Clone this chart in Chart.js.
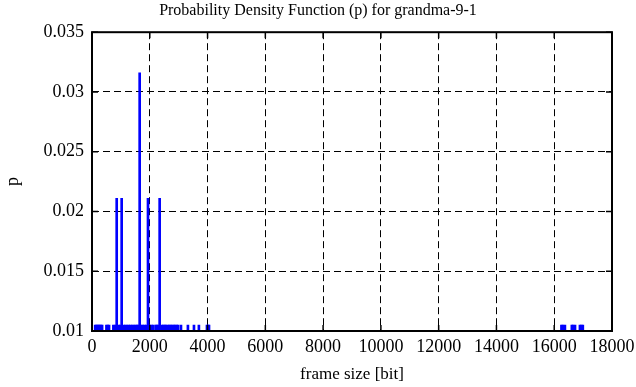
<!DOCTYPE html>
<html>
<head>
<meta charset="utf-8">
<script src="https://cdn.jsdelivr.net/npm/chart.js@4/dist/chart.umd.min.js"></script>
<style>
  html, body { margin: 0; padding: 0; background: #fff; }
  #wrap { width: 636px; height: 387px; }
</style>
</head>
<body>
<div id="wrap"><canvas id="c" width="636" height="387"></canvas></div>
<script>
// ---- data ----
const titleText = 'Probability Density Function (p) for grandma-9-1';
const xLabel = 'frame size [bit]';
const yLabel = 'p';
const xTicks = [0, 2000, 4000, 6000, 8000, 10000, 12000, 14000, 16000, 18000];
const yTickLabels = ['0.01', '0.015', '0.02', '0.025', '0.03', '0.035'];

const frameSizes = [
  110, 150, 190, 230, 270, 310, 350,
  500, 545, 590,
  740, 800, 855, 860, 920, 980, 1027, 1090, 1150, 1210, 1270, 1330, 1390, 1450, 1510, 1560,
  1600, 1650, 1700, 1760, 1820, 1880, 1938, 2000, 2060, 2110,
  2200, 2240, 2290,
  2342, 2420, 2470, 2520, 2560,
  2620, 2680, 2720,
  2780, 2830, 2880, 2930, 2980,
  3080, 3320, 3530, 3700,
  3980, 4020, 4050,
  16250, 16300, 16370, 16610, 16650, 16720, 16890, 16940, 16990
];
const probabilities = [
  0.0105, 0.0105, 0.0105, 0.0105, 0.0105, 0.0105, 0.0105,
  0.0105, 0.0105, 0.0105,
  0.0105, 0.0105, 0.0211, 0.0105, 0.0105, 0.0105, 0.0211, 0.0105, 0.0105, 0.0105, 0.0105, 0.0105, 0.0105, 0.0105, 0.0105, 0.0105,
  0.0105, 0.0316, 0.0105, 0.0105, 0.0105, 0.0105, 0.0211, 0.0105, 0.0105, 0.0105,
  0.0105, 0.0105, 0.0105,
  0.0211, 0.0105, 0.0105, 0.0105, 0.0105,
  0.0105, 0.0105, 0.0105,
  0.0105, 0.0105, 0.0105, 0.0105, 0.0105,
  0.0105, 0.0105, 0.0105, 0.0105,
  0.0105, 0.0105, 0.0105,
  0.0105, 0.0105, 0.0105, 0.0105, 0.0105, 0.0105, 0.0105, 0.0105, 0.0105
];

const FONT = "'Liberation Serif', 'Times New Roman', serif";
const yVals = yTickLabels.map(Number);

const frame = {
  id: 'frame',
  afterDatasetsDraw(chart) {
    const {ctx, chartArea: a, scales} = chart;
    ctx.save();
    ctx.strokeStyle = '#000';
    ctx.lineWidth = 1.5;
    ctx.setLineDash([]);
    const tl = 6;
    ctx.beginPath();
    xTicks.forEach(v => {
      const px = scales.x.getPixelForValue(v);
      ctx.moveTo(px, a.bottom); ctx.lineTo(px, a.bottom - tl);
      ctx.moveTo(px, a.top); ctx.lineTo(px, a.top + tl);
    });
    yVals.forEach(v => {
      const py = scales.y.getPixelForValue(v);
      ctx.moveTo(a.left, py); ctx.lineTo(a.left + tl, py);
      ctx.moveTo(a.right, py); ctx.lineTo(a.right - tl, py);
    });
    ctx.stroke();
    ctx.lineWidth = 2;
    ctx.strokeRect(a.left, a.top, a.right - a.left, a.bottom - a.top);
    ctx.restore();
  }
};

new Chart(document.getElementById('c'), {
  type: 'bar',
  data: {
    datasets: [{
      data: frameSizes.map((x, i) => ({x: x, y: probabilities[i]})),
      backgroundColor: '#0000ff',
      borderWidth: 0,
      barThickness: 2,
      grouped: false
    }]
  },
  options: {
    responsive: false,
    animation: false,
    devicePixelRatio: 1,
    layout: { padding: 0 },
    plugins: {
      legend: { display: false },
      tooltip: { enabled: false },
      title: {
        display: true,
        text: titleText,
        color: '#000',
        font: { family: FONT, size: 16, weight: 'normal' },
        padding: { top: 1, bottom: 12 }
      }
    },
    scales: {
      x: {
        type: 'linear',
        min: 0, max: 18000,
        offset: false,
        afterBuildTicks(scale) { scale.ticks = xTicks.map(v => ({value: v})); },
        ticks: {
          color: '#000',
          font: { family: FONT, size: 18 },
          padding: 5,
          maxRotation: 0,
          autoSkip: false,
          callback: (v) => String(v)
        },
        grid: { color: '#000', lineWidth: 1, drawTicks: false, offset: false },
        border: { display: false, dash: [7, 4] },
        title: {
          display: true, text: xLabel, color: '#000',
          font: { family: FONT, size: 17 },
          padding: { top: 0, bottom: 2 }
        },
        afterFit(scale) { scale.height = 56; scale.paddingLeft = 0; scale.paddingRight = 24; }
      },
      y: {
        type: 'linear',
        min: 0.01, max: 0.035,
        afterBuildTicks(scale) { scale.ticks = yVals.map(v => ({value: v})); },
        ticks: {
          color: '#000',
          font: { family: FONT, size: 18 },
          padding: 8,
          autoSkip: false,
          callback: (v, i) => yTickLabels[i]
        },
        grid: { color: '#000', lineWidth: 1, drawTicks: false, offset: false },
        border: { display: false, dash: [7, 4] },
        title: {
          display: true, text: yLabel, color: '#000',
          font: { family: FONT, size: 18 },
          padding: { top: 2, bottom: 0 }
        },
        afterFit(scale) { scale.width = 92; }
      }
    }
  },
  plugins: [frame]
});
</script>
</body>
</html>
